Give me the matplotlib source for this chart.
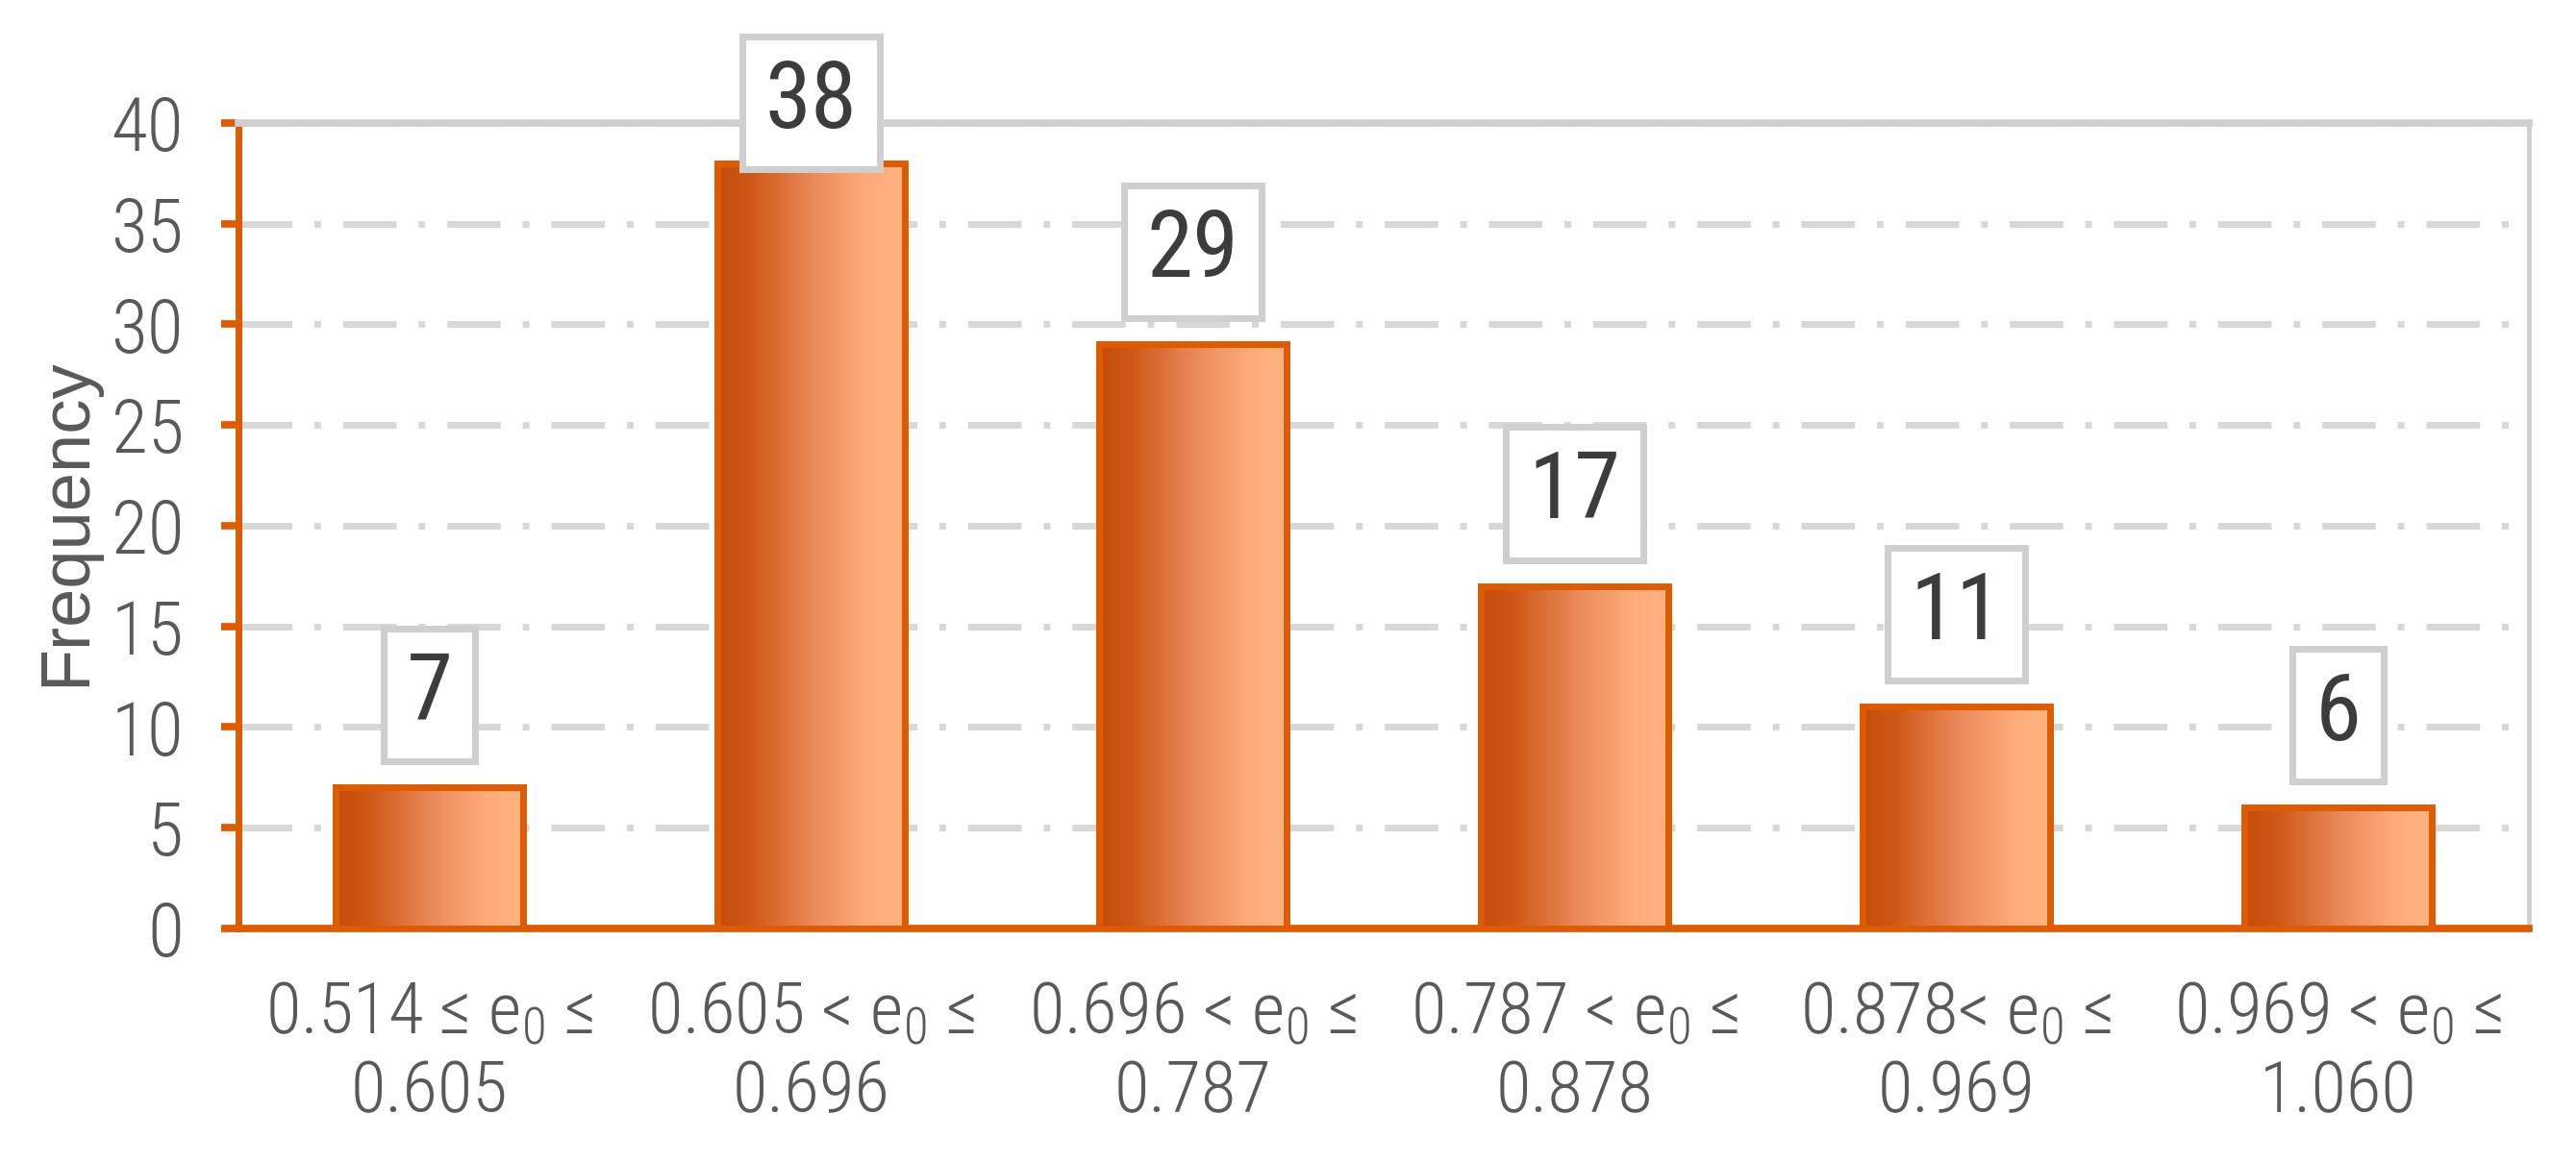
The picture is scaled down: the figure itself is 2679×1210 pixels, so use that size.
import numpy as np
import matplotlib
matplotlib.use("Agg")
import matplotlib.pyplot as plt
from matplotlib import font_manager as fm
from matplotlib.colors import LinearSegmentedColormap


def pick_font(names):
    for n in names:
        try:
            fm.findfont(fm.FontProperties(family=n), fallback_to_default=False)
            return n
        except ValueError:
            pass
    return "DejaVu Sans"


narrow = pick_font(["Liberation Sans Narrow", "Roboto Condensed", "Arial Narrow", "Liberation Sans"])
regular = pick_font(["Liberation Sans", "Arial", "DejaVu Sans"])

plt.rcParams["font.family"] = [narrow, "DejaVu Sans"]
plt.rcParams["font.weight"] = "light"
plt.rcParams["mathtext.fontset"] = "custom"
plt.rcParams["mathtext.rm"] = narrow + ":light"
plt.rcParams["mathtext.it"] = narrow + ":light"

# data
categories = [
    "0.514 ≤ $\\mathregular{e_0}$ ≤\n0.605",
    "0.605 < $\\mathregular{e_0}$ ≤\n0.696",
    "0.696 < $\\mathregular{e_0}$ ≤\n0.787",
    "0.787 < $\\mathregular{e_0}$ ≤\n0.878",
    "0.878< $\\mathregular{e_0}$ ≤\n0.969",
    "0.969 < $\\mathregular{e_0}$ ≤\n1.060",
]
freq = [7, 38, 29, 17, 11, 6]
yticks = [0, 5, 10, 15, 20, 25, 30, 35, 40]

orange = "#E05A00"
grid_gray = "#D8D8D8"
box_gray = "#D0CFCD"
text_gray = "#595959"

grad_cmap = LinearSegmentedColormap.from_list(
    "bar", [(0.0, "#C44C0C"), (0.18, "#CF5918"), (0.52, "#EB8A5A"),
            (0.8, "#FEAB79"), (1.0, "#FFB380")])
grad = np.linspace(0, 1, 256).reshape(1, -1)

fig = plt.figure(figsize=(26.79, 12.10), dpi=100)
ax = fig.add_axes([0.0926, 0.2017, 0.8891, 0.6926])

x = np.arange(len(freq))
w = 0.49
for i, v in zip(x, freq):
    ax.imshow(grad, cmap=grad_cmap, extent=(i - w / 2, i + w / 2, 0, v),
              aspect="auto", zorder=2.6, interpolation="bilinear")
ax.bar(x, freq, w, facecolor="none", edgecolor=orange, linewidth=5, zorder=3)

# value boxes
for i, v in zip(x, freq):
    ax.text(i, min(v + 4.6, 41.0), str(v), ha="center", va="center",
            fontsize=70, fontweight="normal", color="#3C3C3C", zorder=5,
            bbox=dict(boxstyle="square,pad=0.24", facecolor="white",
                      edgecolor=box_gray, linewidth=5))

ax.set_xlim(-0.5, len(freq) - 0.5)
ax.set_ylim(0, 40)
ax.set_yticks(yticks)
ax.set_xticks(x, categories)

ax.set_axisbelow(True)
ax.yaxis.grid(True, color=grid_gray, linewidth=5, linestyle=(0, (8, 3.3, 1, 3.3)))

for s in ["left", "bottom"]:
    ax.spines[s].set_color(orange)
ax.spines["left"].set_linewidth(5)
ax.spines["bottom"].set_linewidth(5.5)
ax.spines["top"].set_color(box_gray)
ax.spines["top"].set_linewidth(5.5)
ax.spines["right"].set_color(box_gray)
ax.spines["right"].set_linewidth(3.5)

ax.tick_params(axis="y", length=13, width=5.5, color=orange, labelsize=56,
               labelcolor=text_gray, pad=28)
ax.tick_params(axis="x", length=0, pad=38, labelsize=54, labelcolor=text_gray)
for t in ax.get_xticklabels():
    t.set_linespacing(1.2)

ax.set_ylabel("Frequency", fontsize=52, color=text_gray, fontweight="normal",
              family=[regular, "DejaVu Sans"])
ax.yaxis.set_label_coords(-0.061, 0.505)

fig.savefig("out.png", dpi=100)
